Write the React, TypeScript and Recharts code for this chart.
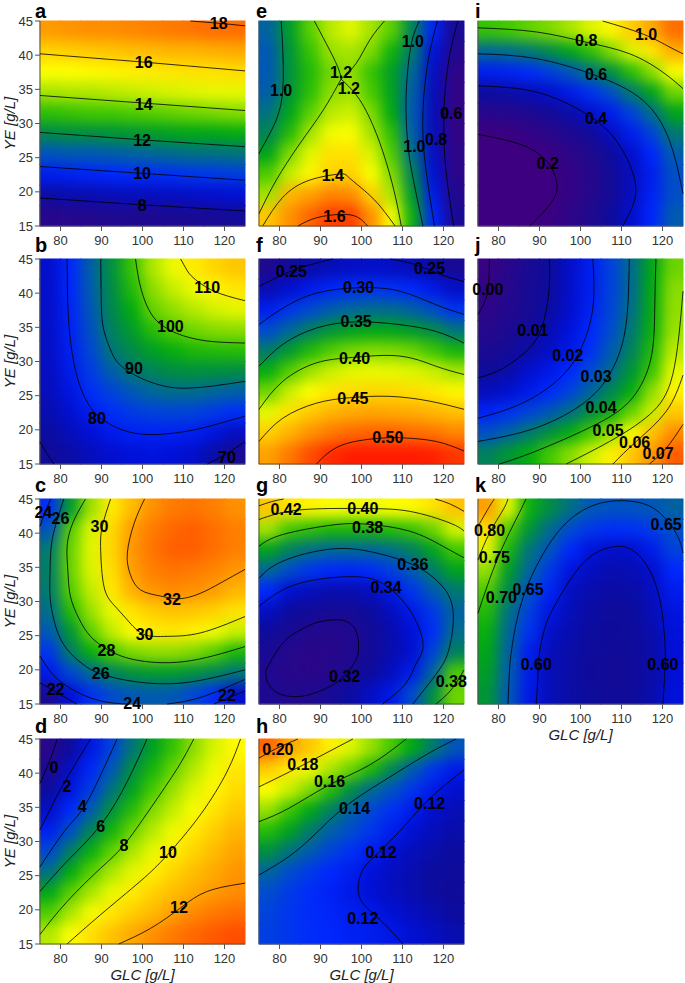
import { ComposedChart, Scatter, Line, XAxis, YAxis } from 'recharts'

// cell centres of the value grids (rows run from top to bottom)
const GLC_CENTERS = [77.5, 82.5, 87.5, 92.5, 97.5, 102.5, 107.5, 112.5, 117.5, 122.5]
const YE_CENTERS = [43.5, 40.5, 37.5, 34.5, 31.5, 28.5, 25.5, 22.5, 19.5, 16.5]
const GLC_TICKS = [80, 90, 100, 110, 120]
const YE_TICKS = [15, 20, 25, 30, 35, 40, 45]

type Pt = [number, number]
type Lbl = { x: number; y: number; t: string }

// ---------- a ----------
const gridA = [
  [17.2, 17.3, 17.4, 17.4, 17.5, 17.6, 17.7, 17.8, 17.9, 17.9],
  [16.1, 16.2, 16.3, 16.4, 16.5, 16.6, 16.7, 16.7, 16.8, 16.9],
  [15.2, 15.2, 15.3, 15.4, 15.5, 15.6, 15.7, 15.8, 15.8, 15.9],
  [14.2, 14.3, 14.3, 14.4, 14.5, 14.6, 14.7, 14.8, 14.9, 14.9],
  [13.1, 13.2, 13.3, 13.3, 13.4, 13.5, 13.6, 13.7, 13.8, 13.9],
  [12.0, 12.1, 12.1, 12.2, 12.3, 12.4, 12.5, 12.6, 12.6, 12.7],
  [10.8, 10.9, 10.9, 11.0, 11.1, 11.2, 11.3, 11.4, 11.4, 11.5],
  [9.5, 9.6, 9.7, 9.8, 9.9, 9.9, 10.0, 10.1, 10.2, 10.3],
  [8.2, 8.3, 8.4, 8.5, 8.6, 8.6, 8.7, 8.8, 8.9, 9.0],
  [6.9, 7.0, 7.1, 7.2, 7.3, 7.3, 7.4, 7.5, 7.6, 7.7],
]
const rangeA: Pt = [6.0, 18.8]
const linesA: Pt[][] = [
  [[75, 19.1], [100, 18.1], [125, 17.2]],
  [[75, 23.7], [100, 22.7], [125, 21.7]],
  [[75, 28.7], [100, 27.6], [125, 26.6]],
  [[75, 34.1], [100, 33.0], [125, 31.9]],
  [[75, 40.2], [100, 39.0], [125, 37.7]],
  [[111.7, 45], [118, 44.7], [125, 44.3]],
]
const labelsA: Lbl[] = [
  { x: 118.6, y: 44.6, t: '18' },
  { x: 100.3, y: 38.9, t: '16' },
  { x: 100.3, y: 32.8, t: '14' },
  { x: 99.9, y: 27.5, t: '12' },
  { x: 99.9, y: 22.7, t: '10' },
  { x: 99.9, y: 18.0, t: '8' },
]

// ---------- b ----------
const gridB = [
  [76, 81, 87.4, 93.1, 98.6, 104.3, 108, 111.2, 113.5, 115.2],
  [75.9, 80.8, 87.1, 92.6, 97.5, 102.6, 105.5, 108, 110.2, 111.7],
  [75.8, 80.5, 86.6, 92, 96, 100.8, 102.8, 104.8, 106.2, 107.3],
  [75.6, 80.1, 85.8, 91.2, 94.3, 97.8, 99.9, 101.3, 102.3, 102.6],
  [75.4, 79.6, 84.8, 90, 92.5, 94.7, 96.2, 97.3, 97.6, 97.8],
  [75, 79, 83.5, 87.2, 90.2, 91.6, 92.7, 93.1, 93, 92.7],
  [74.4, 78, 81.8, 84.3, 86.6, 88.2, 88.9, 88.9, 88.1, 87.4],
  [73.4, 76.5, 79.2, 81.6, 83.3, 84.2, 84.4, 84.1, 83, 81.7],
  [72, 74.5, 76.8, 78.8, 79.8, 80.1, 79.9, 79.5, 77.7, 75],
  [70.3, 72.5, 74.5, 76.2, 77.2, 77.5, 77, 75.8, 72.5, 68.5],
]
const rangeB: Pt = [61, 128]
const linesB: Pt[][] = [
  [[115.8, 15], [120.5, 16.5], [125, 18.3]],
  [[75, 18.3], [76.6, 16.6], [78.4, 15]],
  [[81.6, 45], [81.7, 40], [82.1, 35], [83.2, 30], [85, 26], [87.3, 23.3], [90, 21.6], [95, 20], [102, 19.3], [110.9, 19.8], [118, 20.8], [125, 22]],
  [[89.8, 45], [89.9, 40], [90.3, 35.4], [92, 32], [94.5, 29.5], [99.5, 27.6], [104, 26.6], [109.3, 26.1], [117, 26.4], [125, 27.1]],
  [[98.3, 45], [99.1, 42], [100.5, 39], [102.8, 36.4], [105.8, 34.9], [109.3, 33.9], [115.8, 33], [125, 32.7]],
  [[109.3, 45], [110.8, 43.4], [112.5, 42.2], [117.4, 40.3], [125, 38.9]],
]
const labelsB: Lbl[] = [
  { x: 115.8, y: 40.8, t: '110' },
  { x: 106.8, y: 35.1, t: '100' },
  { x: 97.9, y: 29.0, t: '90' },
  { x: 88.9, y: 21.7, t: '80' },
  { x: 120.6, y: 16.0, t: '70' },
]

// ---------- c ----------
const gridC = [
  [24.2, 26.8, 28.7, 30.3, 31.4, 32.2, 32.6, 32.7, 32.5, 32.2],
  [25.1, 28.0, 29.4, 30.7, 32.0, 32.6, 32.9, 33.0, 32.8, 32.5],
  [26.0, 28.2, 29.5, 30.8, 32.1, 32.7, 33.0, 33.0, 32.8, 32.5],
  [26.1, 28.2, 29.4, 30.6, 32.0, 32.5, 32.7, 32.6, 32.4, 32.1],
  [26.0, 28.0, 29.1, 30.4, 31.6, 32.15, 32.3, 32.2, 32.0, 31.5],
  [25.7, 27.5, 28.7, 29.6, 30.5, 31.0, 31.2, 31.1, 30.9, 30.5],
  [25.2, 26.7, 28.1, 29.1, 30.0, 30.3, 30.4, 30.2, 29.7, 29.2],
  [24.4, 26.1, 27.2, 27.9, 28.4, 28.6, 28.6, 28.4, 28.0, 27.4],
  [23.6, 24.8, 25.6, 26.2, 26.6, 26.8, 26.8, 26.6, 26.3, 25.9],
  [21.5, 23.2, 24.3, 24.9, 25.2, 25.3, 25.2, 24.8, 24.2, 23.0],
]
const rangeC: Pt = [19.9, 33.8]
const linesC: Pt[][] = [
  [[100.5, 45], [98, 41.5], [96.3, 37.1], [97, 34], [99.5, 31.7], [104.4, 30.8], [109, 30.4], [114.1, 31.2], [119, 32.7], [125, 34.7]],
  [[92.2, 45], [90.2, 41], [89.8, 37.5], [90.6, 32.2], [93, 29.5], [96.3, 27.3], [100.3, 25.2], [106, 24.9], [114.1, 25.4], [125, 27.8]],
  [[86.1, 45], [83, 41.5], [81.6, 38], [81.8, 34.5], [82.4, 30.8], [84.5, 27.5], [87.3, 24.9], [91.4, 23], [97.9, 21.5], [110.1, 21.2], [125, 23.4]],
  [[80.8, 45], [78.5, 40.5], [77.6, 37.1], [77.4, 33], [77.6, 29.8], [79, 26], [81.6, 23], [85.5, 20.8], [89.8, 19.4], [97.9, 18.3], [110.1, 18.1], [125, 20]],
  [[77.6, 45], [76.2, 43], [75, 41]],
  [[75, 22], [78, 19.4], [81.6, 17.6], [86, 16.2], [91, 15.3], [96, 15]],
  [[106, 15], [112, 15.6], [118, 16.8], [125, 18.6]],
  [[75, 18.1], [79.6, 16.5], [84, 15]],
  [[117.4, 15], [121, 15.9], [125, 16.9]],
]
const labelsC: Lbl[] = [
  { x: 75.8, y: 43.0, t: '24' },
  { x: 80.0, y: 42.1, t: '26' },
  { x: 89.5, y: 41.0, t: '30' },
  { x: 107.2, y: 30.3, t: '32' },
  { x: 100.5, y: 25.1, t: '30' },
  { x: 91.2, y: 22.9, t: '28' },
  { x: 89.8, y: 19.4, t: '26' },
  { x: 78.8, y: 17.1, t: '22' },
  { x: 97.5, y: 15.1, t: '24' },
  { x: 120.6, y: 16.3, t: '22' },
]

// ---------- d ----------
const gridD = [
  [-0.2, 1.2, 2.7, 4.0, 5.35, 6.45, 7.3, 8.25, 9.1, 9.85],
  [0.4, 2.0, 3.3, 4.6, 6.0, 6.95, 7.85, 8.7, 9.5, 10.3],
  [1.2, 2.65, 3.9, 5.3, 6.5, 7.5, 8.4, 9.2, 9.95, 10.6],
  [2.0, 3.4, 4.7, 6.1, 7.15, 8.15, 8.9, 9.65, 10.35, 11.0],
  [3.0, 4.4, 5.75, 6.9, 7.9, 8.75, 9.5, 10.25, 10.9, 11.5],
  [4.2, 5.6, 6.8, 7.75, 8.6, 9.35, 10.1, 10.75, 11.35, 11.9],
  [5.2, 6.7, 7.7, 8.6, 9.3, 10.1, 10.75, 11.3, 11.8, 12.2],
  [6.6, 7.7, 8.6, 9.4, 10.2, 10.8, 11.3, 11.75, 12.1, 12.35],
  [7.6, 8.6, 9.6, 10.3, 10.9, 11.4, 12.0, 12.4, 12.7, 12.9],
  [8.7, 9.7, 10.5, 11.2, 11.8, 12.3, 12.7, 13.0, 13.2, 13.35],
]
const rangeD: Pt = [-1.2, 14.0]
const linesD: Pt[][] = [
  [[75, 38.5], [77.6, 42.2], [79.2, 45]],
  [[75, 31.7], [78.4, 35.8], [81.6, 39.3], [87.3, 45]],
  [[75, 26.3], [81.6, 32], [86.5, 35.8], [93.8, 45]],
  [[75, 22.7], [81.6, 27.1], [89.8, 32.4], [96.3, 38.8], [101.1, 45]],
  [[75, 16.4], [81.6, 21.2], [89.8, 26.1], [95.5, 29.5], [102, 34.9], [108.5, 40.7], [112.5, 45]],
  [[81.6, 15], [89.8, 19.3], [99.5, 24.2], [106, 28], [114.1, 33.9], [120.6, 40.2], [123.9, 45]],
  [[94.2, 15], [102, 17.3], [109.3, 20.3], [115.8, 22.7], [125, 23.9]],
]
const labelsD: Lbl[] = [
  { x: 78.4, y: 40.9, t: '0' },
  { x: 81.6, y: 38.0, t: '2' },
  { x: 85.3, y: 35.1, t: '4' },
  { x: 89.8, y: 32.2, t: '6' },
  { x: 95.5, y: 29.4, t: '8' },
  { x: 106.2, y: 28.4, t: '10' },
  { x: 108.9, y: 20.4, t: '12' },
]

// ---------- e ----------
const gridE = [
  [0.93, 1.045, 1.15, 1.23, 1.27, 1.21, 1.15, 1.0, 0.8, 0.6],
  [0.91, 1.03, 1.12, 1.2, 1.215, 1.18, 1.085, 0.98, 0.75, 0.56],
  [0.91, 1.025, 1.1, 1.17, 1.195, 1.12, 1.05, 0.94, 0.71, 0.52],
  [0.92, 1.03, 1.11, 1.19, 1.21, 1.135, 1.055, 0.92, 0.7, 0.51],
  [0.96, 1.06, 1.15, 1.23, 1.25, 1.18, 1.07, 0.91, 0.69, 0.51],
  [1.0, 1.1, 1.21, 1.29, 1.3, 1.21, 1.11, 0.92, 0.7, 0.51],
  [1.06, 1.18, 1.27, 1.36, 1.36, 1.26, 1.14, 0.95, 0.71, 0.52],
  [1.14, 1.24, 1.32, 1.39, 1.39, 1.3, 1.18, 1.0, 0.74, 0.53],
  [1.21, 1.44, 1.48, 1.52, 1.51, 1.39, 1.22, 1.04, 0.77, 0.56],
  [1.41, 1.5, 1.56, 1.6, 1.6, 1.5, 1.3, 1.08, 0.8, 0.6],
]
const rangeE: Pt = [0.46, 1.635]
const linesE: Pt[][] = [
  [[84.5, 15], [89, 16.2], [95, 16.7], [99, 16.3], [101.5, 15]],
  [[75.9, 15], [80.8, 19.2], [87.3, 21.7], [94.6, 22.6], [97.1, 22.0], [102, 19.5], [105.6, 17.1], [108.2, 15]],
  [[95, 36.5], [94.2, 38.3], [91.4, 41.7], [88.5, 45]],
  [[95, 36.5], [90.6, 31.9], [84.9, 27.0], [79.2, 21.7], [75, 16.8]],
  [[95, 36.5], [98.7, 38.8], [102, 42.2], [105.6, 45]],
  [[95, 36.5], [98.7, 34.2], [102, 30.8], [105.2, 25.9], [108, 20], [109.7, 15]],
  [[80.4, 45], [80.8, 40.7], [80.8, 34.9], [79.5, 31], [77.6, 28.5], [75, 25.6]],
  [[114.1, 45], [112.1, 41.5], [111, 35.6], [110.9, 30.8], [111.5, 25.9], [112.9, 21], [115, 15]],
  [[118.5, 45], [116.5, 40], [115.2, 34], [115, 28], [116, 22], [117.8, 15]],
  [[123.5, 45], [121.5, 40], [120.3, 34], [120.1, 28], [120.8, 22], [122.5, 15]],
]
const labelsE: Lbl[] = [
  { x: 80.4, y: 34.8, t: '1.0' },
  { x: 95.0, y: 37.5, t: '1.2' },
  { x: 96.9, y: 35.1, t: '1.2' },
  { x: 93.0, y: 22.4, t: '1.4' },
  { x: 93.4, y: 16.4, t: '1.6' },
  { x: 112.5, y: 42.0, t: '1.0' },
  { x: 112.9, y: 26.6, t: '1.0' },
  { x: 118.2, y: 27.6, t: '0.8' },
  { x: 121.9, y: 31.4, t: '0.6' },
]

// ---------- f ----------
const gridF = [
  [0.235, 0.247, 0.258, 0.265, 0.27, 0.272, 0.27, 0.265, 0.255, 0.241],
  [0.262, 0.275, 0.287, 0.295, 0.301, 0.303, 0.301, 0.296, 0.286, 0.271],
  [0.289, 0.304, 0.315, 0.325, 0.33, 0.333, 0.332, 0.327, 0.317, 0.302],
  [0.315, 0.33, 0.343, 0.354, 0.36, 0.363, 0.362, 0.357, 0.35, 0.337],
  [0.341, 0.357, 0.372, 0.383, 0.391, 0.394, 0.393, 0.389, 0.379, 0.37],
  [0.366, 0.384, 0.4, 0.411, 0.418, 0.42, 0.419, 0.416, 0.411, 0.402],
  [0.39, 0.411, 0.427, 0.438, 0.443, 0.446, 0.445, 0.442, 0.437, 0.43],
  [0.419, 0.44, 0.453, 0.4625, 0.468, 0.47, 0.469, 0.467, 0.463, 0.457],
  [0.449, 0.464, 0.477, 0.486, 0.492, 0.494, 0.494, 0.491, 0.488, 0.482],
  [0.472, 0.487, 0.5, 0.509, 0.515, 0.518, 0.517, 0.515, 0.512, 0.506],
]
const rangeF: Pt = [0.204, 0.513]
const linesF: Pt[][] = [
  [[75, 41], [80.8, 42.7], [86, 43.9], [93, 45]],
  [[107, 45], [113, 44.2], [119, 42.8], [125, 41.7]],
  [[75, 35.4], [80.8, 37.8], [89, 40], [99.5, 40.8], [109.3, 40.3], [118.2, 38.3], [125, 36.9]],
  [[75, 29.3], [80.8, 32.5], [89, 34.9], [98.7, 35.8], [109.3, 35.4], [118.2, 34.4], [125, 32.7]],
  [[75, 23], [80.8, 27.1], [89, 29.8], [97.9, 30.6], [109.3, 30.8], [118.2, 29.3], [125, 28.1]],
  [[75, 18.3], [80.8, 21.7], [89, 23.9], [97.1, 24.7], [106.8, 24.9], [116.6, 24.2], [125, 23]],
  [[89, 15], [95.4, 17.8], [105.2, 18.8], [110.9, 18.8], [118.2, 18.3], [125, 16.9]],
]
const labelsF: Lbl[] = [
  { x: 82.9, y: 43.2, t: '0.25' },
  { x: 116.6, y: 43.6, t: '0.25' },
  { x: 99.3, y: 40.8, t: '0.30' },
  { x: 98.7, y: 35.8, t: '0.35' },
  { x: 98.3, y: 30.5, t: '0.40' },
  { x: 97.9, y: 24.6, t: '0.45' },
  { x: 106.4, y: 18.9, t: '0.50' },
]

// ---------- g ----------
const gridG = [
  [0.412, 0.405, 0.403, 0.4, 0.399, 0.399, 0.4, 0.402, 0.406, 0.413],
  [0.39, 0.381, 0.379, 0.377, 0.377, 0.377, 0.378, 0.38, 0.385, 0.395],
  [0.373, 0.366, 0.362, 0.36, 0.36, 0.36, 0.362, 0.366, 0.373, 0.381],
  [0.36, 0.354, 0.349, 0.346, 0.345, 0.347, 0.351, 0.357, 0.365, 0.373],
  [0.346, 0.337, 0.333, 0.331, 0.331, 0.334, 0.341, 0.349, 0.357, 0.364],
  [0.334, 0.328, 0.325, 0.323, 0.324, 0.328, 0.334, 0.341, 0.35, 0.359],
  [0.327, 0.322, 0.319, 0.318, 0.319, 0.325, 0.331, 0.338, 0.347, 0.361],
  [0.322, 0.317, 0.315, 0.316, 0.319, 0.325, 0.331, 0.337, 0.352, 0.366],
  [0.32, 0.316, 0.315, 0.317, 0.322, 0.328, 0.334, 0.342, 0.359, 0.382],
  [0.321, 0.319, 0.319, 0.323, 0.329, 0.335, 0.341, 0.354, 0.369, 0.385],
]
const rangeG: Pt = [0.307, 0.437]
const linesG: Pt[][] = [
  [[76.7, 20], [80.8, 23.9], [85, 25.8], [89, 26.9], [93, 27.3], [96.3, 27.1], [98.6, 25.8], [99.3, 23.5], [98.7, 21.5], [96.5, 19.6], [93.8, 18.1], [89.5, 16.8], [84.9, 16.1], [80.9, 16.3], [78.4, 17.1], [76.9, 18.5], [76.7, 20]],
  [[75, 29.3], [80.8, 31.7], [89, 33.2], [99.5, 33.6], [106, 32.3], [111.7, 28.8], [115, 23.9], [113.4, 21], [110.9, 18.1], [105.2, 15]],
  [[75, 33.4], [80.8, 35.9], [93, 37.7], [103.6, 37.1], [112.5, 35.4], [119, 32.7], [122.3, 28.8], [121.5, 23.4], [119.5, 20.5], [116.6, 18.1], [112.5, 15]],
  [[75, 38.1], [80.8, 39.8], [93, 41.2], [101.5, 41.3], [111.7, 40.3], [119.8, 38.1], [125, 36.4]],
  [[118.2, 15], [121, 16.5], [123.1, 18.1], [125, 20]],
  [[75, 42], [84.9, 43.4], [100.3, 43.6], [111.7, 43.2], [121.5, 41.5], [125, 40.3]],
  [[75, 44], [78, 44.6], [81, 45]],
  [[118, 45], [121.5, 44.3], [125, 43.2]],
]
const labelsG: Lbl[] = [
  { x: 81.6, y: 43.5, t: '0.42' },
  { x: 100.3, y: 43.6, t: '0.40' },
  { x: 101.5, y: 40.9, t: '0.38' },
  { x: 112.5, y: 35.4, t: '0.36' },
  { x: 106.0, y: 32.0, t: '0.34' },
  { x: 95.9, y: 19.0, t: '0.32' },
  { x: 121.9, y: 18.3, t: '0.38' },
]

// ---------- h ----------
const gridH = [
  [0.204, 0.195, 0.188, 0.18, 0.173, 0.166, 0.159, 0.152, 0.143, 0.135],
  [0.187, 0.181, 0.175, 0.168, 0.162, 0.155, 0.145, 0.136, 0.128, 0.121],
  [0.177, 0.171, 0.164, 0.156, 0.147, 0.139, 0.134, 0.128, 0.121, 0.116],
  [0.166, 0.158, 0.152, 0.144, 0.137, 0.132, 0.127, 0.121, 0.116, 0.112],
  [0.156, 0.151, 0.143, 0.137, 0.133, 0.128, 0.122, 0.117, 0.113, 0.11],
  [0.147, 0.141, 0.136, 0.131, 0.127, 0.122, 0.117, 0.113, 0.11, 0.108],
  [0.138, 0.133, 0.129, 0.125, 0.122, 0.118, 0.114, 0.111, 0.108, 0.107],
  [0.133, 0.129, 0.126, 0.123, 0.1205, 0.117, 0.114, 0.111, 0.108, 0.106],
  [0.131, 0.128, 0.126, 0.124, 0.122, 0.1205, 0.117, 0.114, 0.111, 0.108],
  [0.13, 0.128, 0.126, 0.125, 0.123, 0.122, 0.12, 0.117, 0.114, 0.111],
]
const rangeH: Pt = [0.088, 0.212]
const linesH: Pt[][] = [
  [[75, 42.2], [79.2, 43.6], [84.5, 45]],
  [[75, 38], [80.8, 39.7], [89, 42.2], [97.9, 45]],
  [[75, 32.9], [82.4, 34.9], [92.2, 38.3], [102, 41.2], [110.9, 45]],
  [[75, 25.1], [84.9, 29], [94.6, 34.4], [105.2, 38.8], [115.8, 42.7], [123.1, 45]],
  [[110.1, 15], [105.5, 18], [101, 20.5], [99.2, 22.8], [100, 25.5], [102.8, 27.6], [109.3, 31.5], [115.8, 35.8], [121.5, 38.8], [125, 40.5]],
]
const labelsH: Lbl[] = [
  { x: 79.6, y: 43.5, t: '0.20' },
  { x: 85.7, y: 41.3, t: '0.18' },
  { x: 92.2, y: 38.8, t: '0.16' },
  { x: 98.3, y: 34.9, t: '0.14' },
  { x: 116.6, y: 35.6, t: '0.12' },
  { x: 104.8, y: 28.4, t: '0.12' },
  { x: 100.3, y: 18.7, t: '0.12' },
]

// ---------- i ----------
const gridI = [
  [0.75, 0.76, 0.78, 0.8, 0.83, 0.87, 0.92, 0.98, 1.04, 1.11],
  [0.6, 0.61, 0.63, 0.66, 0.7, 0.74, 0.8, 0.87, 0.94, 1.03],
  [0.47, 0.48, 0.5, 0.53, 0.57, 0.62, 0.67, 0.74, 0.81, 0.9],
  [0.36, 0.37, 0.39, 0.42, 0.46, 0.51, 0.56, 0.63, 0.7, 0.79],
  [0.27, 0.28, 0.3, 0.33, 0.37, 0.42, 0.47, 0.54, 0.61, 0.7],
  [0.2, 0.21, 0.23, 0.26, 0.3, 0.34, 0.4, 0.47, 0.54, 0.63],
  [0.15, 0.16, 0.18, 0.21, 0.25, 0.29, 0.35, 0.42, 0.49, 0.58],
  [0.13, 0.14, 0.16, 0.19, 0.23, 0.27, 0.33, 0.4, 0.47, 0.56],
  [0.14, 0.15, 0.16, 0.19, 0.23, 0.28, 0.33, 0.4, 0.48, 0.56],
  [0.15, 0.16, 0.18, 0.21, 0.25, 0.29, 0.35, 0.42, 0.49, 0.58],
]
const rangeI: Pt = [0.2, 1.18]
const linesI: Pt[][] = [
  [[75, 28.4], [85.1, 27], [91.6, 24.6], [94.1, 21.7], [93.3, 18.8], [87.6, 15]],
  [[75, 35.5], [89.2, 34.6], [101.4, 31.4], [108.7, 27.5], [112.8, 22.7], [113.2, 18.8], [110.3, 15]],
  [[75, 40.2], [89.2, 39.5], [103.8, 37], [115.2, 33.4], [121.7, 27.5], [125, 19.7]],
  [[75, 44], [89.2, 43.4], [101.4, 41.9], [112, 40.2], [120.1, 37.5], [125, 35.1]],
  [[105.4, 45], [115.2, 43.1], [121.7, 41.2], [125, 40.2]],
]
const labelsI: Lbl[] = [
  { x: 116.0, y: 43.0, t: '1.0' },
  { x: 101.4, y: 42.1, t: '0.8' },
  { x: 103.8, y: 37.2, t: '0.6' },
  { x: 103.8, y: 30.7, t: '0.4' },
  { x: 92.0, y: 24.2, t: '0.2' },
]

// ---------- j ----------
const gridJ = [
  [-0.001, 0.003, 0.0066, 0.01, 0.015, 0.0195, 0.025, 0.0307, 0.0385, 0.0455],
  [0.0, 0.0035, 0.007, 0.01, 0.015, 0.0195, 0.025, 0.0306, 0.0388, 0.047],
  [0.0015, 0.0045, 0.0075, 0.0108, 0.0155, 0.02, 0.0255, 0.0313, 0.0392, 0.0475],
  [0.0035, 0.0058, 0.0087, 0.0125, 0.017, 0.0213, 0.0266, 0.0325, 0.0396, 0.048],
  [0.0063, 0.0083, 0.0113, 0.0148, 0.0185, 0.0225, 0.0283, 0.034, 0.041, 0.05],
  [0.0098, 0.0115, 0.0157, 0.0183, 0.0215, 0.0262, 0.0304, 0.0365, 0.0425, 0.053],
  [0.0135, 0.016, 0.0187, 0.0217, 0.0253, 0.0297, 0.0345, 0.0392, 0.0475, 0.0565],
  [0.0203, 0.0229, 0.0255, 0.0281, 0.0312, 0.0355, 0.0398, 0.0453, 0.0511, 0.062],
  [0.027, 0.0293, 0.0326, 0.0359, 0.0392, 0.0433, 0.0478, 0.0546, 0.0626, 0.0687],
  [0.034, 0.0366, 0.0393, 0.0432, 0.0471, 0.0513, 0.0567, 0.0623, 0.0678, 0.073],
]
const rangeJ: Pt = [-0.0025, 0.0775]
const linesJ: Pt[][] = [
  [[77.8, 45], [77.6, 41.5], [76.8, 39], [75, 36.9]],
  [[92.4, 45], [92.3, 40.3], [90.8, 35.4], [87.6, 32], [81.1, 29], [75, 27.6]],
  [[103, 45], [103, 37.8], [99.8, 31.5], [94.1, 27.1], [85.1, 23.7], [75, 21.7]],
  [[111.9, 45], [111.1, 35.4], [107.9, 29], [101.4, 24.2], [89.2, 20.3], [75, 18.3]],
  [[118.4, 45], [118.1, 37.8], [117.2, 30.5], [112.7, 24.7], [103.8, 20.8], [89.2, 16.9], [80.2, 15]],
  [[125, 40.3], [122.5, 28.1], [116.8, 22.2], [107.1, 18.3], [96.5, 15]],
  [[125, 28], [120.9, 22.7], [113.6, 18.3], [107.9, 15]],
  [[125, 20.8], [120.9, 17.3], [116.8, 15]],
]
const labelsJ: Lbl[] = [
  { x: 77.4, y: 40.5, t: '0.00' },
  { x: 88.4, y: 34.6, t: '0.01' },
  { x: 96.9, y: 30.9, t: '0.02' },
  { x: 103.8, y: 27.8, t: '0.03' },
  { x: 105.0, y: 23.2, t: '0.04' },
  { x: 106.7, y: 19.9, t: '0.05' },
  { x: 113.2, y: 18.2, t: '0.06' },
  { x: 118.9, y: 16.6, t: '0.07' },
]

// ---------- k ----------
const gridK = [
  [0.8, 0.745, 0.695, 0.678, 0.663, 0.65, 0.647, 0.647, 0.649, 0.655],
  [0.77, 0.71, 0.682, 0.66, 0.643, 0.632, 0.627, 0.628, 0.634, 0.646],
  [0.745, 0.698, 0.665, 0.648, 0.625, 0.608, 0.599, 0.6, 0.615, 0.638],
  [0.725, 0.686, 0.657, 0.633, 0.609, 0.596, 0.59, 0.591, 0.6, 0.624],
  [0.71, 0.676, 0.645, 0.621, 0.597, 0.588, 0.584, 0.585, 0.596, 0.615],
  [0.7, 0.664, 0.637, 0.611, 0.593, 0.584, 0.58, 0.581, 0.591, 0.61],
  [0.694, 0.658, 0.63, 0.6, 0.589, 0.582, 0.578, 0.579, 0.588, 0.607],
  [0.69, 0.655, 0.617, 0.594, 0.586, 0.579, 0.576, 0.577, 0.586, 0.605],
  [0.686, 0.653, 0.615, 0.593, 0.585, 0.578, 0.575, 0.576, 0.586, 0.606],
  [0.682, 0.65, 0.613, 0.593, 0.585, 0.579, 0.576, 0.577, 0.587, 0.607],
]
const rangeK: Pt = [0.532, 0.84]
const linesK: Pt[][] = [
  [[89.2, 15], [89.6, 19], [90, 22.5], [91.5, 26.5], [94.1, 29.8], [100.6, 35.6], [107.9, 38], [113.6, 37.1], [118.5, 32.2], [120.5, 24.9], [120.6, 20], [120.1, 15]],
  [[82.3, 15], [82.6, 19], [83.1, 22.5], [85.1, 28.8], [89.2, 35.1], [95.7, 41], [103.8, 44.2], [111.9, 44.7], [118.4, 43.4], [123.3, 40], [125, 37.1]],
  [[75, 28.3], [77.8, 33.2], [81.1, 38.1], [85.1, 43], [86.7, 45]],
  [[75, 36.1], [77.8, 40], [81.1, 43.4], [82.3, 45]],
  [[75, 41], [77.8, 43.9], [79, 45]],
]
const labelsK: Lbl[] = [
  { x: 77.8, y: 40.4, t: '0.80' },
  { x: 79.0, y: 36.4, t: '0.75' },
  { x: 80.7, y: 30.6, t: '0.70' },
  { x: 87.2, y: 31.7, t: '0.65' },
  { x: 120.9, y: 41.3, t: '0.65' },
  { x: 89.2, y: 20.8, t: '0.60' },
  { x: 120.1, y: 20.8, t: '0.60' },
]

// ---------- layout / style ----------
const FONT = '"Liberation Sans", Arial, Helvetica, sans-serif'
const PLOT = 205
const CELL = PLOT / 10
const COL_LEFT = [40, 259, 478]
const ROW_TOP = [21, 259, 499, 739]
const LETTER_X = [35, 256, 475]
const LETTER_BASE = [18, 252, 492, 733]

const STOPS: [number, string][] = [
  [0.0, '#3d0080'],
  [0.08, '#24088c'],
  [0.16, '#0c0c9c'],
  [0.24, '#0010d8'],
  [0.3, '#0028ff'],
  [0.36, '#004ad0'],
  [0.42, '#006e88'],
  [0.47, '#008a48'],
  [0.52, '#00aa10'],
  [0.57, '#40c800'],
  [0.63, '#98e000'],
  [0.68, '#d8f400'],
  [0.72, '#ffff00'],
  [0.79, '#ffd200'],
  [0.86, '#ffa600'],
  [0.93, '#ff6c00'],
  [1.0, '#ff1c00'],
]

const rgb = (h: string) => [1, 3, 5].map((i) => parseInt(h.slice(i, i + 2), 16))

const colorAt = (t: number) => {
  const v = Math.max(0, Math.min(1, t))
  let i = 0
  while (i < STOPS.length - 2 && v > STOPS[i + 1][0]) i++
  const [t0, c0] = STOPS[i]
  const [t1, c1] = STOPS[i + 1]
  const f = (v - t0) / (t1 - t0)
  const a = rgb(c0)
  const b = rgb(c1)
  return `rgb(${a.map((x, k) => Math.round(x + (b[k] - x) * f)).join(',')})`
}

const buildCells = (grid: number[][], [lo, hi]: Pt) =>
  grid.flatMap((row, r) =>
    row.map((v, c) => ({
      x: GLC_CENTERS[c],
      y: YE_CENTERS[r],
      c: colorAt((v - lo) / (hi - lo)),
    })),
  )

const CellShape = (props: any) => {
  const { cx, cy, payload } = props
  if (cx == null || cy == null) return <g />
  return (
    <rect
      x={cx - CELL / 2 - 0.5}
      y={cy - CELL / 2 - 0.5}
      width={CELL + 1}
      height={CELL + 1}
      fill={payload.c}
    />
  )
}

const LabelShape = (props: any) => {
  const { cx, cy, payload } = props
  if (cx == null || cy == null) return <g />
  return (
    <text
      x={cx}
      y={cy}
      textAnchor="middle"
      dominantBaseline="central"
      fontSize={16}
      fontWeight={700}
      fontFamily={FONT}
      fill="#000"
    >
      {payload.t}
    </text>
  )
}

const YTitle = (props: any) => {
  const vb = props.viewBox || {}
  const cx = 9
  const cy = vb.height ? vb.y + vb.height / 2 : 10 + PLOT / 2
  return (
    <text
      x={cx}
      y={cy}
      transform={`rotate(-90 ${cx} ${cy})`}
      textAnchor="middle"
      dominantBaseline="central"
      fontSize={15}
      fontStyle="italic"
      fontFamily={FONT}
      fill="#222"
    >
      YE [g/L]
    </text>
  )
}

const XTitle = (props: any) => {
  const vb = props.viewBox || {}
  const cx = vb.width ? vb.x + vb.width / 2 : 30 + PLOT / 2
  const cy = vb.height ? vb.y + 36 : 10 + PLOT + 36
  return (
    <text
      x={cx}
      y={cy}
      textAnchor="middle"
      fontSize={15}
      fontStyle="italic"
      fontFamily={FONT}
      fill="#222"
    >
      GLC [g/L]
    </text>
  )
}

const TICK = { fontSize: 13, fill: '#333', fontFamily: FONT }

interface PanelDef {
  id: string
  col: number
  row: number
  grid: number[][]
  range: Pt
  lines: Pt[][]
  labels: Lbl[]
  xTitle?: boolean
}

const PANELS: PanelDef[] = [
  { id: 'a', col: 0, row: 0, grid: gridA, range: rangeA, lines: linesA, labels: labelsA },
  { id: 'b', col: 0, row: 1, grid: gridB, range: rangeB, lines: linesB, labels: labelsB },
  { id: 'c', col: 0, row: 2, grid: gridC, range: rangeC, lines: linesC, labels: labelsC },
  { id: 'd', col: 0, row: 3, grid: gridD, range: rangeD, lines: linesD, labels: labelsD, xTitle: true },
  { id: 'e', col: 1, row: 0, grid: gridE, range: rangeE, lines: linesE, labels: labelsE },
  { id: 'f', col: 1, row: 1, grid: gridF, range: rangeF, lines: linesF, labels: labelsF },
  { id: 'g', col: 1, row: 2, grid: gridG, range: rangeG, lines: linesG, labels: labelsG },
  { id: 'h', col: 1, row: 3, grid: gridH, range: rangeH, lines: linesH, labels: labelsH, xTitle: true },
  { id: 'i', col: 2, row: 0, grid: gridI, range: rangeI, lines: linesI, labels: labelsI },
  { id: 'j', col: 2, row: 1, grid: gridJ, range: rangeJ, lines: linesJ, labels: labelsJ },
  { id: 'k', col: 2, row: 2, grid: gridK, range: rangeK, lines: linesK, labels: labelsK, xTitle: true },
]

const Panel = ({ p }: { p: PanelDef }) => {
  const yW = p.col === 0 ? 40 : 30
  const xH = p.xTitle ? 40 : 20
  const cells = buildCells(p.grid, p.range)

  return (
    <div
      style={{
        position: 'absolute',
        left: COL_LEFT[p.col] - yW,
        top: ROW_TOP[p.row] - 10,
      }}
    >
      <ComposedChart
        width={yW + PLOT + 5}
        height={10 + PLOT + xH + 5}
        margin={{ top: 10, right: 5, bottom: 5, left: 0 }}
      >
        <XAxis
          type="number"
          dataKey="x"
          domain={[75, 125]}
          ticks={GLC_TICKS}
          interval={0}
          height={xH}
          tickSize={5}
          tickMargin={5}
          tick={TICK}
          stroke="#555"
          label={p.xTitle ? <XTitle /> : undefined}
        />
        <YAxis
          type="number"
          dataKey="y"
          domain={[15, 45]}
          ticks={YE_TICKS}
          interval={0}
          width={yW}
          tickSize={5}
          tickMargin={2}
          tick={p.col === 0 ? TICK : false}
          stroke="#555"
          label={p.col === 0 ? <YTitle /> : undefined}
        />
        <Scatter
          className="heat"
          data={cells}
          shape={CellShape}
          zIndex={50}
          isAnimationActive={false}
        />
        {p.lines.map((pts, i) => (
          <Line
            key={i}
            data={pts.map(([x, y]) => ({ x, y }))}
            dataKey="y"
            type="natural"
            stroke="#000"
            strokeWidth={0.8}
            dot={false}
            activeDot={false}
            zIndex={700}
            isAnimationActive={false}
          />
        ))}
        <Scatter
          data={p.labels}
          shape={LabelShape}
          zIndex={800}
          isAnimationActive={false}
        />
      </ComposedChart>
    </div>
  )
}

export default function App() {
  return (
    <div
      style={{
        position: 'absolute',
        left: 0,
        top: 0,
        width: 685,
        height: 983,
        background: '#fff',
        fontFamily: FONT,
        overflow: 'hidden',
      }}
    >
      <style>{'.heat { filter: url(#smooth); }'}</style>

      {PANELS.map((p) => (
        <Panel key={p.id} p={p} />
      ))}

      <svg
        width={685}
        height={983}
        style={{ position: 'absolute', left: 0, top: 0, pointerEvents: 'none' }}
      >
        <defs>
          <filter
            id="smooth"
            x="-10%"
            y="-10%"
            width="120%"
            height="120%"
            colorInterpolationFilters="sRGB"
          >
            <feGaussianBlur in="SourceGraphic" stdDeviation="7" result="blur" />
            <feComponentTransfer in="blur" result="opaque">
              <feFuncA type="table" tableValues="1 1" />
            </feComponentTransfer>
            <feComposite in="opaque" in2="SourceAlpha" operator="in" />
          </filter>
        </defs>
        {PANELS.map((p) => (
          <text
            key={p.id}
            x={LETTER_X[p.col]}
            y={LETTER_BASE[p.row]}
            fontSize={20}
            fontWeight={700}
            fontFamily={FONT}
            fill="#000"
          >
            {p.id}
          </text>
        ))}
      </svg>
    </div>
  )
}
